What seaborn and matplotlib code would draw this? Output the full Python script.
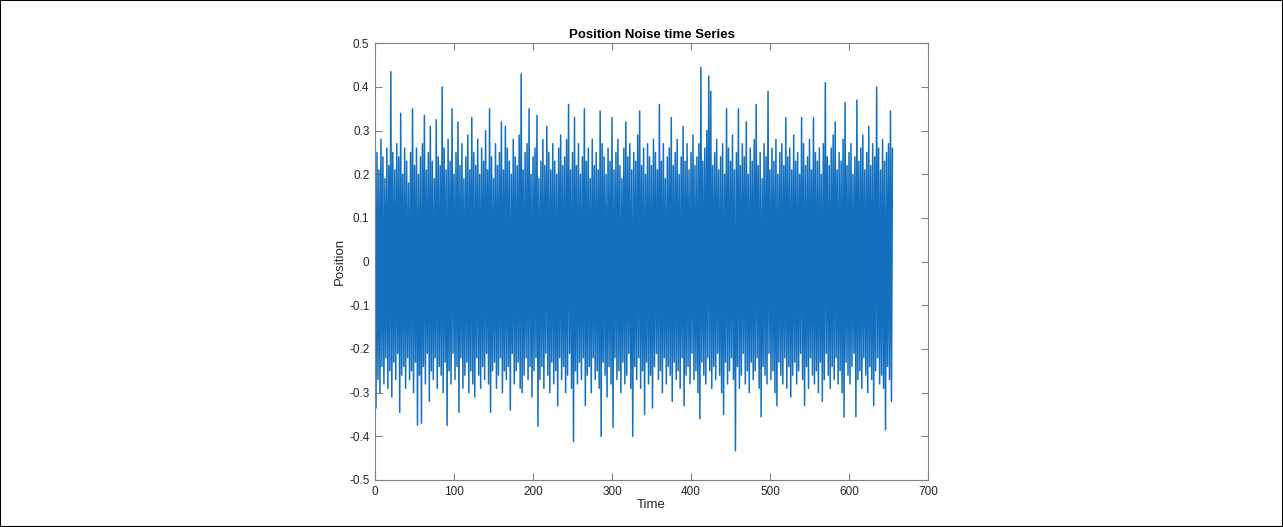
import numpy as np
import pandas as pd
import seaborn as sns
import matplotlib.pyplot as plt

upper = [
    .23, .25, .21, .28, .24, .19, .26, .22, .435, .25,
    .21, .27, .24, .34, .20, .26, .23, .18, .25, .35,
    .22, .26, .20, .24, .27, .335, .21, .25, .31, .23,
    .19, .325, .24, .22, .40, .26, .21, .28, .23, .35,
    .20, .25, .32, .22, .27, .19, .24, .29, .21, .33,
    .25, .22, .28, .20, .26, .23, .30, .21, .35, .24,
    .19, .27, .22, .25, .32, .21, .31, .26, .23, .20,
    .28, .24, .22, .29, .43, .21, .25, .27, .35, .20,
    .24, .26, .335, .19, .23, .28, .22, .31, .25, .21,
    .27, .23, .20, .26, .29, .22, .24, .28, .36, .21,
    .25, .33, .22, .27, .20, .24, .35, .23, .26, .19,
    .28, .22, .25, .21, .345, .27, .24, .20, .26, .23,
    .33, .21, .25, .28, .22, .19, .26, .32, .24, .27,
    .21, .25, .23, .29, .345, .22, .26, .20, .27, .24,
    .22, .28, .25, .21, .36, .23, .27, .19, .24, .26,
    .33, .22, .25, .28, .20, .24, .31, .23, .27, .21,
    .25, .29, .22, .24, .27, .445, .23, .26, .30, .425,
    .39, .22, .25, .28, .21, .24, .27, .20, .35, .26,
    .23, .29, .21, .25, .35, .22, .27, .24, .32, .20,
    .26, .23, .28, .36, .22, .25, .19, .27, .24, .39,
    .21, .26, .23, .28, .20, .25, .27, .22, .33, .24,
    .26, .21, .29, .23, .25, .20, .33, .27, .22, .24,
    .28, .21, .33, .25, .23, .26, .20, .27, .41, .24,
    .22, .26, .29, .32, .21, .25, .23, .28, .365, .22,
    .25, .27, .20, .24, .37, .23, .26, .29, .21, .25,
    .31, .22, .27, .24, .40, .26, .21, .28, .23, .25,
    .27, .345, .26,
]
lower = [
    -.335, -.27, -.30, -.24, -.28, -.22, -.29, -.25, -.31, -.23,
    -.27, -.21, -.345, -.26, -.24, -.29, -.22, -.27, -.25, -.30,
    -.23, -.374, -.26, -.37, -.24, -.28, -.21, -.32, -.25, -.27,
    -.22, -.29, -.24, -.26, -.30, -.23, -.375, -.25, -.28, -.21,
    -.27, -.24, -.345, -.22, -.29, -.26, -.23, -.30, -.25, -.28,
    -.31, -.22, -.26, -.29, -.24, -.27, -.21, -.28, -.345, -.25,
    -.23, -.29, -.26, -.22, -.30, -.25, -.27, -.24, -.34, -.21,
    -.28, -.25, -.23, -.29, -.30, -.26, -.22, -.27, -.24, -.31,
    -.25, -.22, -.377, -.27, -.24, -.29, -.21, -.26, -.30, -.23,
    -.28, -.25, -.33, -.22, -.27, -.24, -.30, -.26, -.21, -.29,
    -.412, -.25, -.28, -.23, -.27, -.22, -.33, -.26, -.24, -.30,
    -.22, -.27, -.25, -.29, -.40, -.23, -.26, -.31, -.24, -.28,
    -.38, -.22, -.27, -.25, -.30, -.23, -.28, -.26, -.21, -.29,
    -.40, -.24, -.27, -.22, -.29, -.25, -.35, -.23, -.28, -.26,
    -.335, -.24, -.21, -.27, -.25, -.30, -.22, -.28, -.24, -.26,
    -.32, -.23, -.27, -.25, -.29, -.22, -.33, -.26, -.24, -.28,
    -.21, -.27, -.25, -.30, -.36, -.23, -.26, -.28, -.22, -.25,
    -.29, -.24, -.27, -.21, -.26, -.30, -.35, -.23, -.28, -.25,
    -.22, -.27, -.433, -.24, -.29, -.26, -.21, -.28, -.25, -.30,
    -.23, -.27, -.25, -.22, -.29, -.355, -.24, -.26, -.28, -.21,
    -.27, -.25, -.30, -.33, -.23, -.26, -.28, -.22, -.29, -.24,
    -.31, -.26, -.23, -.28, -.25, -.21, -.27, -.33, -.24, -.29,
    -.22, -.26, -.28, -.25, -.30, -.23, -.32, -.27, -.21, -.26,
    -.29, -.24, -.27, -.22, -.28, -.25, -.30, -.356, -.23, -.26,
    -.28, -.24, -.21, -.355, -.27, -.25, -.29, -.22, -.26, -.30,
    -.24, -.27, -.33, -.25, -.22, -.28, -.26, -.29, -.385, -.24,
    -.27, -.32,
]
dt = 2.5
x_ticks = [0, 100, 200, 300, 400, 500, 600, 700]
y_ticks = [-0.5, -0.4, -0.3, -0.2, -0.1, 0, 0.1, 0.2, 0.3, 0.4, 0.5]
y_labels = ['-0.5', '-0.4', '-0.3', '-0.2', '-0.1', '0', '0.1', '0.2', '0.3', '0.4', '0.5']

t_up = np.arange(len(upper)) * dt
t_lo = np.arange(len(lower)) * dt + dt / 2
df = pd.DataFrame({'Time': np.concatenate([t_up, t_lo]),
                   'Position': np.concatenate([upper, lower])})
df = df.sort_values('Time')

sns.set_style('white')
plt.rcParams['font.family'] = ['Liberation Sans', 'DejaVu Sans']
plt.rcParams['axes.unicode_minus'] = False

fig = plt.figure(figsize=(12.83, 5.27), dpi=100)
ax = fig.add_axes([0.2923, 0.0892, 0.4310, 0.8286])
sns.lineplot(data=df, x='Time', y='Position', ax=ax, color='#1470BE',
             linewidth=1.1, estimator=None, sort=False)

ax.set_xlim(0, 700)
ax.set_ylim(-0.5, 0.5)
ax.set_xticks(x_ticks)
ax.set_yticks(y_ticks)
ax.set_yticklabels(y_labels)
gray = '#262626'
for s in ax.spines.values():
    s.set_color('#808080')
    s.set_linewidth(0.8)
ax.tick_params(direction='in', length=5, width=0.8, color='#808080',
               labelcolor=gray, labelsize=8.5, top=True, right=True,
               bottom=True, left=True, pad=4)
ax.set_xlabel('Time', fontsize=9.5, color=gray, labelpad=1)
ax.set_ylabel('Position', fontsize=9.5, color=gray, labelpad=2)
ax.set_title('Position Noise time Series', fontsize=9.5, fontweight='bold',
             color='black', pad=4)

# thin frame round the whole picture
fig.patches.append(plt.Rectangle((0, 0), 1, 1, transform=fig.transFigure,
                                 fill=False, edgecolor='black', linewidth=1.5))

fig.savefig('out.png', dpi=100)
